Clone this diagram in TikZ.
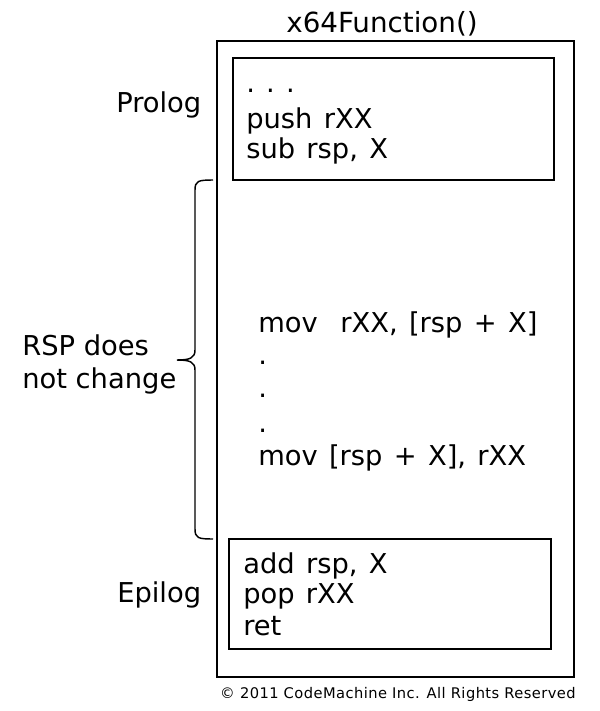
\documentclass[tikz,border=0pt]{standalone}
\usepackage{fontspec}
\setmainfont{DejaVu Sans}
\newfontfamily\codefont{DejaVu Sans}[WordSpace=1.3]
\newfontfamily\notefont{DejaVu Sans}[LetterSpace=3]
\usetikzlibrary{positioning}

\begin{document}
\begin{tikzpicture}[x=0.75pt,y=-0.75pt,
  codeline/.style={anchor=base west,inner sep=0pt,font=\codefont\fontsize{20.5}{24}\selectfont},
  sidelabel/.style={anchor=base west,inner sep=0pt,font=\fontsize{20.5}{24}\selectfont},
  frame/.style={line width=1.5pt}]
\useasboundingbox (0,0) rectangle (600,711);
% function body and the two blocks
\draw[frame] (217,41) rectangle (574,677);
\draw[frame] (233,58) rectangle (554,180);
\draw[frame] (229,539) rectangle (551,649);
\node[anchor=base,inner sep=0pt,font=\fontsize{20.8}{24}\selectfont] (title) at (382,32) {x64Function()};
% prolog
\node[codeline] (pro1) at (246,92) {.\ .\ .};
\node[codeline] (pro2) at (246,128) {push rXX};
\node[codeline] (pro3) at (246,158) {sub rsp, X};
% body
\node[codeline] (body1) at (258,332) {mov\ \ rXX, [rsp + X]};
\node[codeline] (dot1) at (258,364) {.};
\node[codeline] (dot2) at (258,397) {.};
\node[codeline] (dot3) at (258,432) {.};
\node[codeline] (body2) at (258,465) {mov [rsp + X], rXX};
% epilog
\node[codeline] (epi1) at (243,573) {add rsp, X};
\node[codeline] (epi2) at (243,603) {pop rXX};
\node[codeline] (epi3) at (243,635) {ret};
% labels on the left
\node[sidelabel] (prolog) at (116,112) {Prolog};
\node[sidelabel] (epilog) at (117,602) {Epilog};
\node[sidelabel] (rsp1) at (22,355) {RSP does};
\node[sidelabel] (rsp2) at (22,388) {not change};
% brace
\draw[line width=1.1pt] (213,180) .. controls (198,180) and (195,181) .. (195,190) -- (195,350)
  .. controls (195,358) and (190,360) .. (177,360)
  .. controls (190,360) and (195,362) .. (195,370) -- (195,529)
  .. controls (195,538) and (198,539) .. (213,539);
\node[anchor=base,inner sep=0pt,font=\notefont\fontsize{11}{12}\selectfont] (copy) at (398,698) {\copyright\ 2011 CodeMachine Inc. All Rights Reserved};
\end{tikzpicture}
\end{document}
